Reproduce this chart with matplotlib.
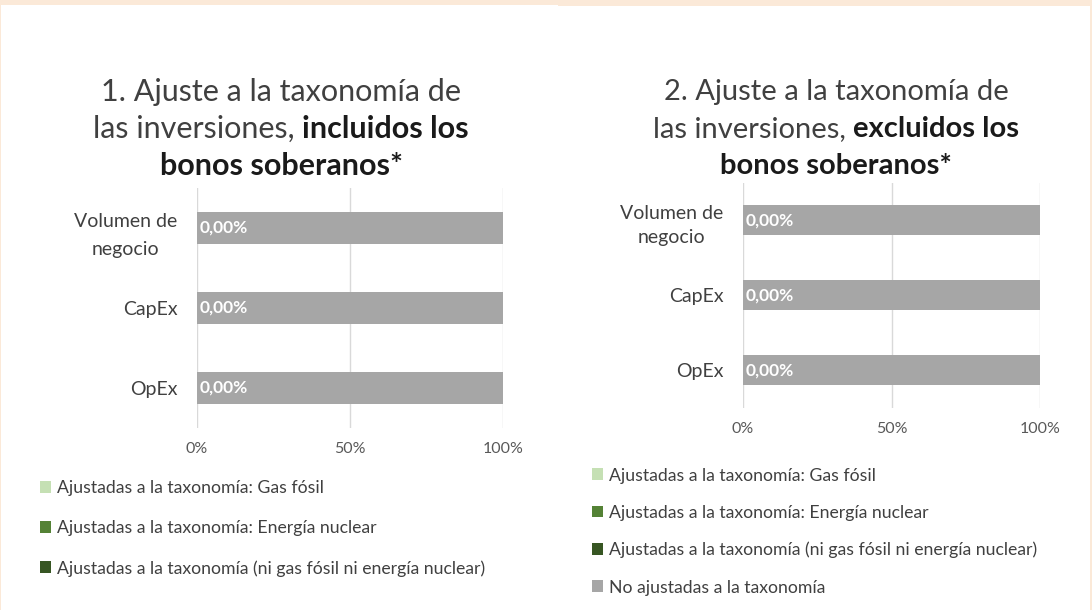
import matplotlib
matplotlib.use("Agg")
import matplotlib.pyplot as plt
from matplotlib.patches import Rectangle

W, H = 1092, 610

categories = ["Volumen de\nnegocio", "CapEx", "OpEx"]
series_names = [
    "Ajustadas a la taxonomía: Gas fósil",
    "Ajustadas a la taxonomía: Energía nuclear",
    "Ajustadas a la taxonomía (ni gas fósil ni energía nuclear)",
    "No ajustadas a la taxonomía",
]
series_colors = ["#C5E0B4", "#548235", "#375623", "#A6A6A6"]

# 1. incluidos los bonos soberanos
gas_1 = [0.0, 0.0, 0.0]
nuclear_1 = [0.0, 0.0, 0.0]
other_1 = [0.0, 0.0, 0.0]
not_aligned_1 = [100.0, 100.0, 100.0]

# 2. excluidos los bonos soberanos
gas_2 = [0.0, 0.0, 0.0]
nuclear_2 = [0.0, 0.0, 0.0]
other_2 = [0.0, 0.0, 0.0]
not_aligned_2 = [100.0, 100.0, 100.0]

x_ticks = [0, 50, 100]
x_tick_labels = ["0%", "50%", "100%"]

title_1 = [[("1. Ajuste a la taxonomía de", False)],
           [("las inversiones,", False), ("incluidos los", True)],
           [("bonos soberanos*", True)]]
title_2 = [[("2. Ajuste a la taxonomía de", False)],
           [("las inversiones,", False), ("excluidos los", True)],
           [("bonos soberanos*", True)]]

FONT = ["Lato", "DejaVu Sans"]
plt.rcParams["font.family"] = FONT
CREAM = "#FBE9D8"


def px(x, y):
    return x / W, 1 - y / H


def ax_rect(x0, y0, x1, y1):
    return [x0 / W, 1 - y1 / H, (x1 - x0) / W, (y1 - y0) / H]


fig = plt.figure(figsize=(W / 100, H / 100), dpi=100, facecolor=CREAM)
renderer = fig.canvas.get_renderer()

# white panels
fig.patches.append(Rectangle(px(1, 610), 557 / W, 605 / H, transform=fig.transFigure,
                             facecolor="white", edgecolor="none", zorder=-2))
fig.patches.append(Rectangle(px(558, 610), 532 / W, 604 / H, transform=fig.transFigure,
                             facecolor="white", edgecolor="none", zorder=-2))


def title_lines(cx, ys, lines, size):
    sp = fig.text(0, 0, "a a", fontsize=size)
    nsp = fig.text(0, 0, "aa", fontsize=size)
    space = sp.get_window_extent(renderer).width - nsp.get_window_extent(renderer).width
    sp.remove()
    nsp.remove()
    for y, parts in zip(ys, lines):
        texts, widths = [], []
        for s, bold in parts:
            t = fig.text(0, 0, s, fontsize=size, fontweight="bold" if bold else "normal",
                         color="#1A1A1A" if bold else "#404040", ha="left", va="center")
            texts.append(t)
            widths.append(t.get_window_extent(renderer).width)
        total = sum(widths) + space * (len(parts) - 1)
        x = cx - total / 2
        for t, w in zip(texts, widths):
            t.set_position(px(x, y))
            x += w + space


def panel(rect, gas, nuclear, other, not_aligned, pad_y, linesp):
    ax = fig.add_axes(rect)
    ax.set_facecolor("none")
    y = range(len(categories))
    left = [0.0] * len(categories)
    bars = []
    for vals, name, col in zip([gas, nuclear, other, not_aligned], series_names, series_colors):
        b = ax.barh(y, vals, left=left, height=0.4, color=col, label=name, zorder=2)
        bars.append(b)
        left = [l + v for l, v in zip(left, vals)]
    # data labels of the aligned (ni gas ni nuclear) series
    for i, v in enumerate(other):
        ax.annotate(f"{v:.2f}%".replace(".", ","), xy=(gas[i] + nuclear[i], i),
                    xytext=(2, 0), textcoords="offset points", ha="left", va="center",
                    color="white", fontsize=12.5, fontweight="bold", zorder=3)
    ax.set_xlim(0, 100)
    ax.set_ylim(len(categories) - 0.5, -0.5)
    ax.set_xticks(x_ticks)
    ax.set_xticklabels(x_tick_labels)
    ax.set_yticks(list(y))
    ax.set_yticklabels(categories, multialignment="center")
    ax.tick_params(axis="x", length=0, pad=pad_y, labelsize=11.5, labelcolor="#595959")
    ax.tick_params(axis="y", length=0, pad=14, labelsize=14, labelcolor="#404040")
    for lab in ax.get_yticklabels():
        lab.set_linespacing(linesp)
    ax.grid(axis="x", color="#D9D9D9", lw=1, zorder=0)
    ax.set_axisbelow(True)
    for s in ax.spines.values():
        s.set_visible(False)
    return ax, bars


ax1, bars1 = panel(ax_rect(197, 188, 503, 428), gas_1, nuclear_1, other_1, not_aligned_1, 10, 1.8)
ax2, bars2 = panel(ax_rect(743, 182.5, 1040, 408), gas_2, nuclear_2, other_2, not_aligned_2, 10, 1.55)

title_lines(281, [92, 129, 166], title_1, 22)
title_lines(836, [92, 129, 166], title_2, 21)

# the first panel's legend is cut off by its frame after the third entry
for bars, n, (lx, ly), sp in [(bars1, 3, (40, 480), 1.36), (bars2, 4, (592, 467.5), 1.2)]:
    fig.legend(handles=bars[:n], labels=series_names[:n], loc="upper left",
               bbox_to_anchor=px(lx, ly), frameon=False, fontsize=12.7,
               labelcolor="#404040", handlelength=0.65, handleheight=0.65,
               handletextpad=0.3, labelspacing=sp, borderpad=0, borderaxespad=0)

fig.savefig("out.png", dpi=100, facecolor=CREAM)
